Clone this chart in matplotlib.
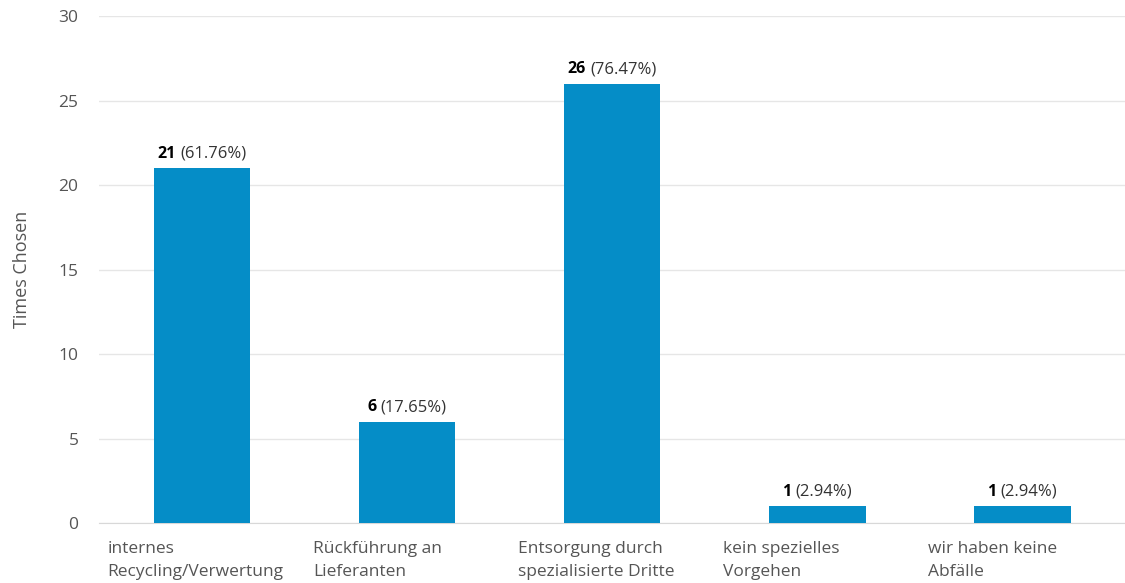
import matplotlib
matplotlib.use("Agg")
import matplotlib.pyplot as plt
from matplotlib.offsetbox import TextArea, HPacker, AnnotationBbox

plt.rcParams['font.family'] = ['Open Sans', 'DejaVu Sans']

categories = [
    "internes\nRecycling/Verwertung",
    "Rückführung an\nLieferanten",
    "Entsorgung durch\nspezialisierte Dritte",
    "kein spezielles\nVorgehen",
    "wir haben keine\nAbfälle",
]
counts = [21, 6, 26, 1, 1]
percents = ["61.76%", "17.65%", "76.47%", "2.94%", "2.94%"]
y_ticks = [0, 5, 10, 15, 20, 25, 30]

BAR_COLOR = "#058DC7"
GRID_COLOR = "#e6e6e6"
TEXT_COLOR = "#555555"

fig = plt.figure(figsize=(11.25, 5.83), dpi=100)
ax = fig.add_axes([0.0883, 0.1029, 0.9117, 0.8696])

x = list(range(len(categories)))
ax.bar(x, counts, width=0.47, color=BAR_COLOR, zorder=3)

ax.set_xlim(-0.5, len(categories) - 0.5)
ax.set_ylim(0, 30)
ax.set_yticks(y_ticks)
ax.yaxis.grid(True, color=GRID_COLOR, linewidth=1, zorder=0)
ax.tick_params(axis='y', length=0, pad=15, labelsize=12.5, labelcolor=TEXT_COLOR)
ax.tick_params(axis='x', length=0, labelbottom=False)
for side in ['top', 'right', 'left']:
    ax.spines[side].set_visible(False)
ax.spines['bottom'].set_color("#d8d8d8")

ax.set_ylabel("Times Chosen", fontsize=13, color=TEXT_COLOR, labelpad=20)

# category labels, left-aligned under each slot
for i, lab in enumerate(categories):
    ax.annotate(lab, xy=(i - 0.5, 0), xycoords='data', xytext=(6, -13),
                textcoords='offset points', ha='left', va='top',
                fontsize=12.5, color=TEXT_COLOR, linespacing=1.6)

# value labels above bars: bold count + percent
for i, (c, p) in enumerate(zip(counts, percents)):
    box = HPacker(children=[
        TextArea(str(c), textprops=dict(fontsize=11.5, fontweight='bold', color='black')),
        TextArea(f"({p})", textprops=dict(fontsize=12, color='#333333')),
    ], align='baseline', pad=0, sep=3)
    ab = AnnotationBbox(box, (i, c), xybox=(0, 4.5), boxcoords='offset points',
                        box_alignment=(0.5, 0), frameon=False, pad=0)
    ax.add_artist(ab)

fig.savefig("out.png", dpi=100)
